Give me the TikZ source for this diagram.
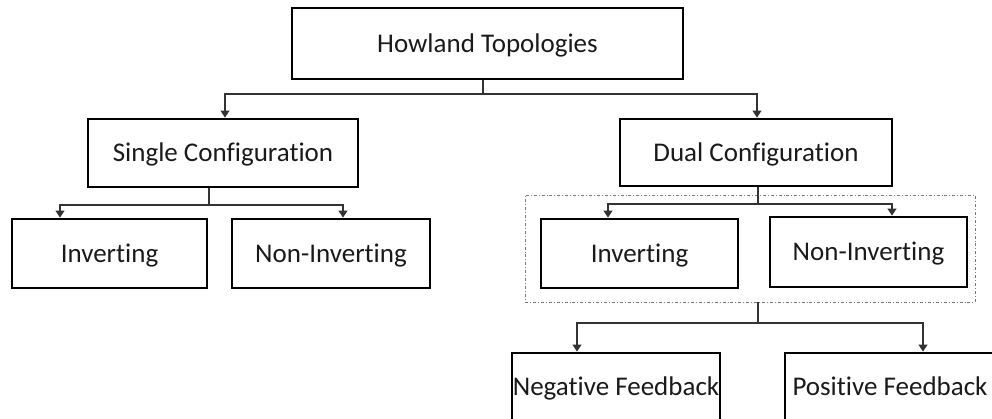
\documentclass[tikz,border=0pt]{standalone}
\usepackage{fontspec}
\setmainfont{Carlito}[Ligatures={NoCommon}]
\usetikzlibrary{arrows.meta}
\definecolor{ink}{HTML}{1A1A1A}
\definecolor{wire}{HTML}{333333}
\definecolor{frame}{HTML}{7A7A7A}
\tikzset{
  box/.style={draw=black, line width=2.8pt, rectangle, inner sep=0pt,
    text=ink, font=\fontsize{27}{31}\selectfont,
    text height=19pt, text depth=1.6pt},
  link/.style={draw=wire, line width=1.3pt},
  arr/.style={link, -{Triangle[width=9pt,length=7pt]}},
  grpbox/.style={draw=frame, line width=0.9pt, dash dot, rectangle, inner sep=0pt}
}
\begin{document}
\begin{tikzpicture}[x=1pt,y=-1pt]
\useasboundingbox (0,0) rectangle (992,419);
\clip (0,0) rectangle (992,419);

% boxes
\node[box, minimum width=391pt, minimum height=71pt] (top) at (487.5,43.5) {Howland Topologies};
\node[box, minimum width=270pt, minimum height=68pt] (single) at (223,153) {Single Configuration};
\node[box, minimum width=272pt, minimum height=67pt] (dual) at (756,152.5) {Dual Configuration};

\node[box, minimum width=195pt, minimum height=69pt] (sinv) at (109.5,253.5) {Inverting};
\node[box, minimum width=198pt, minimum height=69pt] (snon) at (331,253.5) {Non-Inverting};

\node[grpbox, minimum width=450pt, minimum height=107pt] (grp) at (750,248.5) {};
\node[box, minimum width=197pt, minimum height=69pt] (dinv) at (639.5,253.5) {Inverting};
\node[box, minimum width=197pt, minimum height=70pt] (dnon) at (868.5,252) {Non-Inverting};

\node[box, minimum width=208pt, minimum height=67pt] (neg) at (616,386.5) {Negative Feedback};
\node[box, minimum width=210pt, minimum height=67pt] (pos) at (890,386.5) {Positive Feedback};

% junction points
\coordinate (j1) at (483,94);
\coordinate (j2) at (209,205);
\coordinate (j3) at (758,204);
\coordinate (j4) at (758,323);

% connectors
\draw[link] (top.south -| j1) -- (j1);
\draw[arr] (j1) -| ([xshift=2pt]single.north);
\draw[arr] (j1) -| ([xshift=1pt]dual.north);

\draw[link] (single.south -| j2) -- (j2);
\draw[arr] (j2) -| ([xshift=-49.5pt]sinv.north);
\draw[arr] (j2) -| ([xshift=12pt]snon.north);

\draw[link] (dual.south -| j3) -- (j3);
\draw[arr] (j3) -| ([xshift=-31.5pt]dinv.north);
\draw[arr] (j3) -| ([xshift=23.5pt]dnon.north);

\draw[link] (grp.south -| j4) -- (j4);
\draw[arr] (j4) -| ([xshift=-39pt]neg.north);
\draw[arr] (j4) -| ([xshift=33pt]pos.north);
\end{tikzpicture}
\end{document}
